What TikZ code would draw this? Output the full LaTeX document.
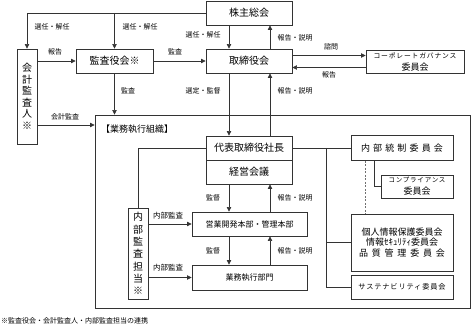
\documentclass[tikz,border=0pt]{standalone}
\usepackage{fontspec}
\setmainfont{Noto Sans CJK JP}
\newfontfamily\jpspaced[LetterSpace=35]{Noto Sans CJK JP}
\newfontfamily\jpwide[LetterSpace=42]{Noto Sans CJK JP}
\newfontfamily\jpsmall[LetterSpace=12]{Noto Sans CJK JP}
\usetikzlibrary{arrows.meta}
\definecolor{ink}{HTML}{333333}

\begin{document}
\begin{tikzpicture}[x=1pt, y=-1pt,
  box/.style={draw=ink, line width=0.9pt, inner sep=0pt, align=center, font=\fontsize{10}{12}\selectfont},
  arr/.style={draw=ink, line width=0.7pt, -{Triangle[length=4.5pt,width=4.5pt]}},
  conn/.style={draw=ink, line width=0.7pt},
  dashline/.style={draw=ink!70, line width=0.8pt, dash pattern=on 2pt off 1.5pt},
  lbl/.style={font=\fontsize{7}{8}\selectfont, inner sep=0pt}]

\useasboundingbox (0,0) rectangle (471,331);

% Governance level
\node[box, minimum width=86pt, minimum height=24pt] (kabu) at (249,13) {株主総会};
\node[box, minimum width=86pt, minimum height=24pt] (torishimari) at (249,61) {取締役会};
\node[box, minimum width=77pt, minimum height=24pt] (kansa) at (114.5,61) {監査役会※};
\node[box, minimum width=20pt, minimum height=95pt, font=\fontsize{10}{11.5}\selectfont] (kaikei) at (27,96.5) {会\\計\\監\\査\\人\\※};
\node[box, minimum width=98pt, minimum height=23pt] (cg) at (415,61.5)
  {{\jpsmall\fontsize{6.8}{8}\selectfont コーポレートガバナンス}\\{\fontsize{9}{10}\selectfont 委員会}};

% Execution frame
\node[draw=ink, line width=0.9pt, inner sep=0pt, minimum width=375pt, minimum height=193pt] (org) at (282.5,211.5) {};
\node[anchor=west, inner sep=0pt, font=\fontsize{9}{10}\selectfont] (orgtitle) at (101,129) {【業務執行組織】};

% Execution boxes
\node[box, minimum width=86pt, minimum height=24pt] (daihyo) at (249,148) {代表取締役社長};
\node[box, minimum width=86pt, minimum height=24pt] (keiei) at (249,172) {経営会議};
\node[box, minimum width=20pt, minimum height=91pt, font=\fontsize{10}{12.3}\selectfont] (naibu) at (138,253.5) {内\\部\\監\\査\\担\\当\\※};
\node[box, minimum width=115pt, minimum height=24pt, font=\fontsize{8}{10}\selectfont] (eigyo) at (249.5,224) {営業開発本部・管理本部};
\node[box, minimum width=115pt, minimum height=25pt, font=\fontsize{8}{10}\selectfont] (gyomu) at (249.5,277.5) {業務執行部門};

% Committees
\node[box, minimum width=102pt, minimum height=25pt, font=\jpspaced\fontsize{9}{11}\selectfont] (tosei) at (402,148) {内部統制委員会};
\node[box, minimum width=72pt, minimum height=23pt] (comp) at (417,186.5)
  {{\jpsmall\fontsize{6.5}{7.5}\selectfont コンプライアンス}\\{\fontsize{9}{10}\selectfont 委員会}};
\node[box, minimum width=102pt, minimum height=57pt, font=\fontsize{9}{10.8}\selectfont] (kojin) at (402,242.5)
  {個人情報保護委員会\\情報ｾｷｭﾘﾃｨ委員会\\{\jpwide 品質管理委員会}};
\node[box, minimum width=102pt, minimum height=24pt, font=\jpsmall\fontsize{7.2}{9}\selectfont] (sus) at (402,287) {サステナビリティ委員会};

% Appointment arrows
\draw[arr] (kabu.west) -| (kaikei.north);
\draw[arr] (kabu.west -| kansa.north) -- (kansa.north);
\draw[arr] ([xshift=-20pt]kabu.south) -- ([xshift=-20pt]torishimari.north);
\draw[arr] ([xshift=21pt]torishimari.north) -- ([xshift=21pt]kabu.south);
\node[lbl] (l1) at (52,27) {選任・解任};
\node[lbl] (l2) at (140,27) {選任・解任};
\node[lbl] (l3) at (203,35) {選任・解任};
\node[lbl] (l4) at (295,38) {報告・説明};

% Audit and reporting
\draw[arr] (kaikei.east |- kansa.west) -- (kansa.west);
\draw[arr] (kansa.east) -- (torishimari.west);
\draw[arr] ([yshift=5.5pt]torishimari.east) -- ([yshift=5.5pt]torishimari.east -| cg.west);
\draw[arr] ([yshift=-6.5pt]torishimari.east -| cg.west) -- ([yshift=-6.5pt]torishimari.east);
\node[lbl] (l5) at (55,52) {報告};
\node[lbl] (l6) at (175,52) {監査};
\node[lbl] (l7) at (331,47) {諮問};
\node[lbl] (l8) at (329,75) {報告};

% Into the execution frame
\draw[arr] (kansa.south) -- (kansa.south |- org.north);
\draw[arr] ([xshift=-20pt]torishimari.south) -- ([xshift=-20pt]daihyo.north);
\draw[arr] ([xshift=21pt]daihyo.north) -- ([xshift=21pt]torishimari.south);
\draw[arr] ([yshift=-28.5pt]kaikei.east) -- ([yshift=-28.5pt]kaikei.east -| org.west);
\node[lbl] (l9) at (128,91) {監査};
\node[lbl] (l10) at (203,91) {選定・監督};
\node[lbl] (l11) at (295,91) {報告・説明};
\node[lbl] (l12) at (65,117) {会計監査};

% Inside the frame
\draw[conn] (daihyo.west) -| (naibu.north);
\draw[arr] ([xshift=-20pt]keiei.south) -- ([xshift=-20pt]keiei.south |- eigyo.north);
\draw[arr] ([xshift=21pt]keiei.south |- eigyo.north) -- ([xshift=21pt]keiei.south);
\draw[arr] ([xshift=-20pt]keiei.south |- eigyo.south) -- ([xshift=-20pt]keiei.south |- gyomu.north);
\draw[arr] ([xshift=21pt]keiei.south |- gyomu.north) -- ([xshift=21pt]keiei.south |- eigyo.south);
\draw[arr] (naibu.east |- eigyo.west) -- (eigyo.west);
\draw[arr] (naibu.east |- gyomu.west) -- (gyomu.west);
\node[lbl] (l13) at (213,198) {監督};
\node[lbl] (l14) at (295,198) {報告・説明};
\node[lbl] (l15) at (213,251) {監督};
\node[lbl] (l16) at (295,251) {報告・説明};
\node[lbl, font=\fontsize{7.5}{8}\selectfont] (l17) at (168,216) {内部監査};
\node[lbl, font=\fontsize{7.5}{8}\selectfont] (l18) at (168,268) {内部監査};

% Committee links
\coordinate (br) at (326,148);
\draw[conn] (daihyo.east) -- (tosei.west);
\draw[conn] (br) |- (sus.west);
\draw[conn] (br |- kojin.west) -- (kojin.west);
\draw[conn] ([xshift=-28pt]tosei.south) |- (comp.west);
\draw[dashline] ([xshift=-37pt]tosei.south) -- ([xshift=-37pt]tosei.south |- kojin.north);

% Footnote
\node[lbl, anchor=west] (note) at (1,321) {※監査役会・会計監査人・内部監査担当の連携};

\end{tikzpicture}
\end{document}
